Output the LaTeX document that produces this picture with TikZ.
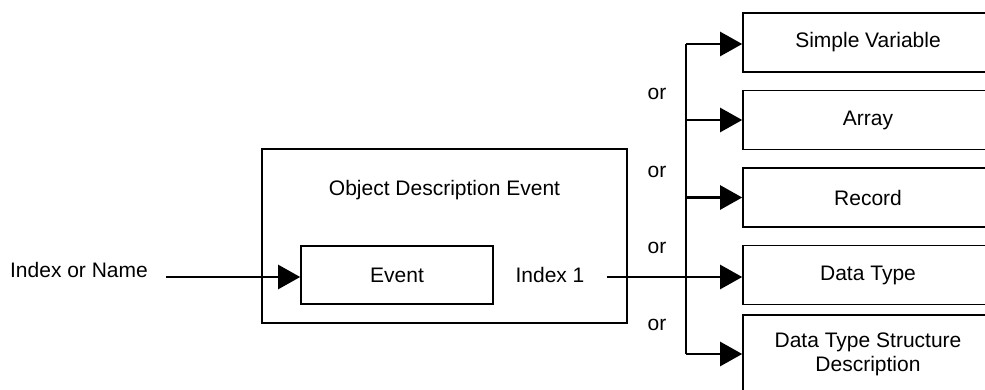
\documentclass[tikz,border=0pt]{standalone}
\usepackage{fontspec}
\setmainfont{Liberation Sans}
\usetikzlibrary{arrows.meta}
\begin{document}
\begin{tikzpicture}[x=1pt,y=-1pt,
  every node/.style={font=\fontsize{21}{24}\selectfont, inner sep=0pt},
  box/.style={draw, line width=1.6pt, rectangle},
  tbox/.style={box, minimum width=250pt, minimum height=59pt, anchor=center},
  conn/.style={line width=2.4pt},
  arr/.style={conn, -{Triangle[length=22pt,width=24pt]}}]
\useasboundingbox (0,0) rectangle (985,390);
\clip (0,0) rectangle (985,390);
% outer box
\node[box, minimum width=365pt, minimum height=174pt] (odbox) at (444.5,236) {};
\node (odtitle) at (444.5,190) {Object Description Event};
\node[box, minimum width=192pt, minimum height=58pt] (event) at (397,275) {Event};
\node (idxname) at (79,270) {Index or Name};
\node (idx1) at (550,275) {Index 1};
% target boxes
\node[tbox] (sv) at (868,42.5) {Simple Variable};
\node[tbox] (ar) at (868,120) {Array};
\node[tbox] (rec) at (868,197.5) {Record};
\node[tbox] (dt) at (868,275) {Data Type};
\node[tbox, minimum height=78pt, align=center] (dtsd) at (868,354) {Data Type Structure\\Description};
% or labels
\node (or1) at (657,94) {or};
\node (or2) at (657,172) {or};
\node (or3) at (657,248) {or};
\node (or4) at (657,325) {or};
% connectors
\coordinate (instart) at (166,277);
\coordinate (outstart) at (607,277);
\coordinate (bt) at (686,44);
\coordinate (bb) at (686,354);
\draw[arr] (instart) -- (instart -| event.west);
\draw[arr] (outstart) -- (outstart -| dt.west);
\draw[conn] (bt) -- (bb);
\draw[arr] (bt) -- (bt -| sv.west);
\draw[arr] (ar.west -| bt) -- (ar.west);
\draw[arr] (rec.west -| bt) -- (rec.west);
\draw[arr] (bb) -- (bb -| dtsd.west);
\end{tikzpicture}
\end{document}
